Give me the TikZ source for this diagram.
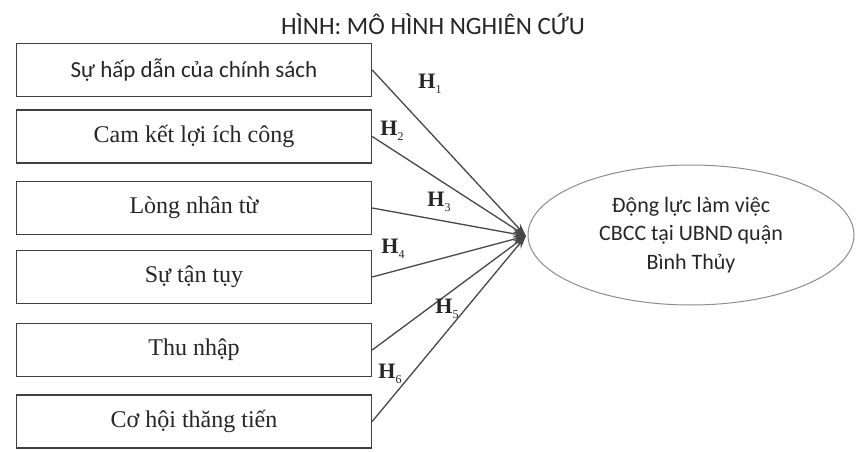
\documentclass[tikz,border=0pt]{standalone}
\usepackage{fontspec}
\setmainfont{Liberation Serif}
\newfontfamily\calfont{Carlito}
\usetikzlibrary{arrows.meta,shapes.geometric}
\tikzset{
  factor/.style={draw=black!75, line width=1.4pt, minimum width=355pt, minimum height=53pt, inner sep=0pt, font=\fontsize{24}{28}\selectfont, text=black!85},
  link/.style={draw=black!72, line width=1.3pt, -{Stealth[length=13pt,width=8pt]}},
  hlab/.style={font=\fontsize{22}{24}\selectfont\bfseries, text=black!85, inner sep=0pt}
}
\newcommand{\hyp}[1]{H\raisebox{-0.45ex}{\fontsize{12}{12}\selectfont\mdseries #1}}
\begin{document}
\begin{tikzpicture}[x=1pt,y=-1pt]
\useasboundingbox (0,0) rectangle (857,452);
\node[font=\calfont\fontsize{25}{27}\selectfont, text=black!85] (title) at (433,24.5) {HÌNH: MÔ HÌNH NGHIÊN CỨU};
\node[factor, font=\calfont\fontsize{23}{27}\selectfont] (f1) at (194,70) {Sự hấp dẫn của chính sách};
\node[factor] (f2) at (194,136.5) {Cam kết lợi ích công};
\node[factor] (f3) at (194,208) {Lòng nhân từ};
\node[factor] (f4) at (194,277) {Sự tận tụy};
\node[factor] (f5) at (194,350) {Thu nhập};
\node[factor] (f6) at (194,421.5) {Cơ hội thăng tiến};
\node[draw=black!45, line width=1pt, ellipse, minimum width=326pt, minimum height=140pt, inner sep=0pt, align=center, font=\calfont\fontsize{22}{28.5}\selectfont, text=black!85] (dv) at (691,235) {Động lực làm việc\\CBCC tại UBND quận\\Bình Thủy};
\coordinate (tip) at (526,236);
\foreach \i in {1,...,6} {\draw[link] (f\i.east) -- (tip);}
\node[hlab] (h1) at (430,84) {\hyp{1}};
\node[hlab] (h2) at (392,131) {\hyp{2}};
\node[hlab] (h3) at (439,202) {\hyp{3}};
\node[hlab] (h4) at (393,249) {\hyp{4}};
\node[hlab] (h5) at (447,309) {\hyp{5}};
\node[hlab] (h6) at (390,374) {\hyp{6}};
\end{tikzpicture}
\end{document}
